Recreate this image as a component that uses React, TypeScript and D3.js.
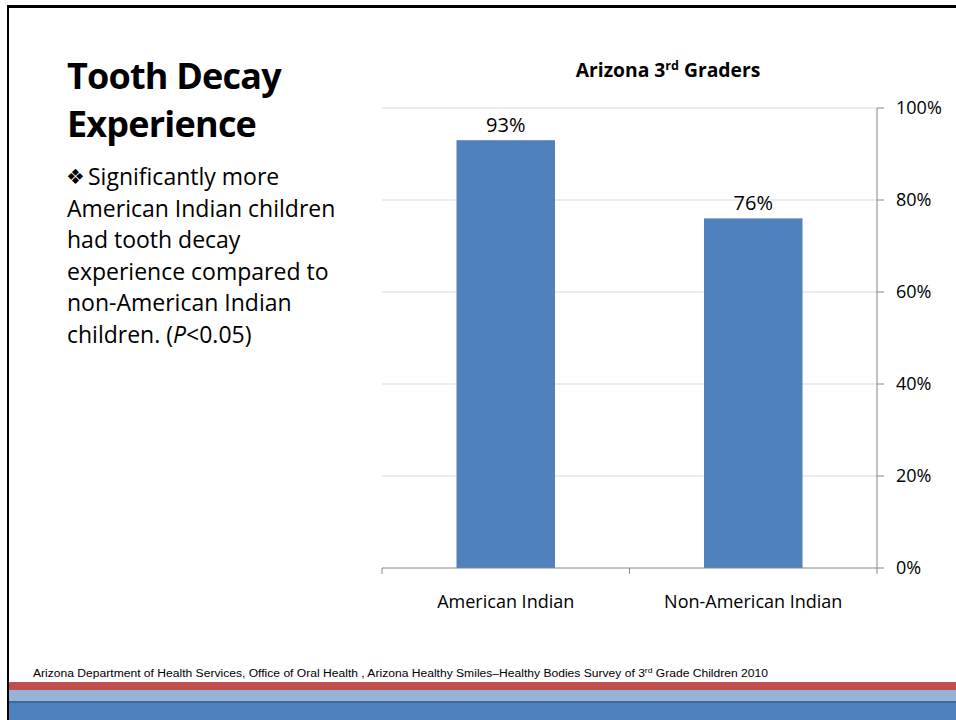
import React from "react";
import * as d3 from "d3";

const categories = ["American Indian", "Non-American Indian"];
const values = [0.93, 0.76];
const valueLabels = ["93%", "76%"];
const yTicks = [0, 0.2, 0.4, 0.6, 0.8, 1.0];
const yTickLabels = ["0%", "20%", "40%", "60%", "80%", "100%"];
const bodyLines = [
  "Significantly more",
  "American Indian children",
  "had tooth decay",
  "experience compared to",
  "non-American Indian",
];

const W = 956;
const H = 720;
const plot = { left: 382, right: 877, top: 108, bottom: 568 };
const FONT = "'Open Sans', 'Noto Sans', sans-serif";

export default function App() {
  const x = d3
    .scaleBand<string>()
    .domain(categories)
    .range([plot.left, plot.right])
    .paddingInner(0)
    .paddingOuter(0);
  const y = d3.scaleLinear().domain([0, 1]).range([plot.bottom, plot.top]);
  const barW = x.bandwidth() * 0.398;
  const boundaries = [plot.left, ...categories.map((c) => (x(c) as number) + x.bandwidth())];

  return (
    <svg
      width={W}
      height={H}
      viewBox={`0 0 ${W} ${H}`}
      style={{ position: "absolute", left: 0, top: 0, background: "#fff" }}
    >
      <rect x={0} y={0} width={W} height={H} fill="#fff" />
      {/* frame */}
      <rect x={7} y={5} width={W} height={3} fill="#000" />
      <rect x={7} y={5} width={2} height={H} fill="#000" />

      {/* left text */}
      <text x={67} y={89} fontFamily={FONT} fontWeight={700} fontSize={36} letterSpacing={-0.8} fill="#000">
        Tooth Decay
      </text>
      <text x={67} y={137} fontFamily={FONT} fontWeight={700} fontSize={36} letterSpacing={-0.8} fill="#000">
        Experience
      </text>
      <g fontFamily={FONT} fontSize={23} fill="#000">
        {bodyLines.map((l, i) => (
          <text key={i} x={i === 0 ? 88 : 67} y={185 + i * 31.6}>
            {l}
          </text>
        ))}
        <text x={66} y={184} fontFamily="'DejaVu Sans'" fontSize={21}>
          ❖
        </text>
        <text x={67} y={185 + 5 * 31.6}>
          children. (<tspan fontStyle="italic">P</tspan>&lt;0.05)
        </text>
      </g>

      {/* chart title */}
      <text
        x={668}
        y={77}
        textAnchor="middle"
        fontFamily={FONT}
        fontWeight={700}
        fontSize={19.3}
        fill="#000"
      >
        Arizona 3
        <tspan fontSize={12.5} dy={-7}>
          rd
        </tspan>
        <tspan dy={7}> Graders</tspan>
      </text>

      {/* gridlines */}
      {yTicks
        .filter((t) => t > 0)
        .map((t) => (
          <line
            key={t}
            x1={plot.left}
            x2={plot.right}
            y1={y(t)}
            y2={y(t)}
            stroke="#d9d9d9"
            strokeWidth={1}
          />
        ))}

      {/* bars */}
      {categories.map((c, i) => {
        const cx = (x(c) as number) + x.bandwidth() / 2;
        return (
          <g key={c}>
            <rect
              x={cx - barW / 2}
              y={y(values[i])}
              width={barW}
              height={y(0) - y(values[i])}
              fill="#4f81bd"
            />
            <text
              x={cx}
              y={y(values[i]) - 8}
              textAnchor="middle"
              fontFamily={FONT}
              fontSize={20}
              fill="#000"
            >
              {valueLabels[i]}
            </text>
            <text
              x={cx}
              y={608}
              textAnchor="middle"
              fontFamily={FONT}
              fontSize={18}
              fill="#000"
            >
              {c}
            </text>
          </g>
        );
      })}

      {/* axes */}
      <line x1={plot.left} x2={plot.right} y1={plot.bottom} y2={plot.bottom} stroke="#868686" />
      {boundaries.map((b, i) => (
        <line key={i} x1={b} x2={b} y1={plot.bottom} y2={plot.bottom + 6} stroke="#868686" />
      ))}
      <line x1={plot.right} x2={plot.right} y1={plot.top} y2={plot.bottom} stroke="#868686" />
      {yTicks.map((t, i) => (
        <g key={t}>
          <line x1={plot.right} x2={plot.right + 7} y1={y(t)} y2={y(t)} stroke="#868686" />
          <text
            x={896}
            y={y(t)}
            dy="0.36em"
            fontFamily={FONT}
            fontSize={18}
            fill="#000"
          >
            {yTickLabels[i]}
          </text>
        </g>
      ))}

      {/* footer */}
      <text
        x={33}
        y={677}
        fontFamily="'Liberation Sans', Arial, sans-serif"
        fontSize={10}
        fill="#000"
        textLength={735}
        lengthAdjust="spacingAndGlyphs"
      >
        Arizona Department of Health Services, Office of Oral Health , Arizona Healthy Smiles–Healthy Bodies Survey of 3
        <tspan fontSize={7} dy={-4}>
          rd
        </tspan>
        <tspan dy={4}> Grade Children  2010</tspan>
      </text>

      {/* bottom bands */}
      <rect x={9} y={682} width={W} height={8} fill="#c0504d" />
      <rect x={9} y={690} width={W} height={11} fill="#95b3d7" />
      <rect x={9} y={701} width={W} height={2} fill="#3f6797" />
      <rect x={9} y={703} width={W} height={17} fill="#4f81bd" />
    </svg>
  );
}
